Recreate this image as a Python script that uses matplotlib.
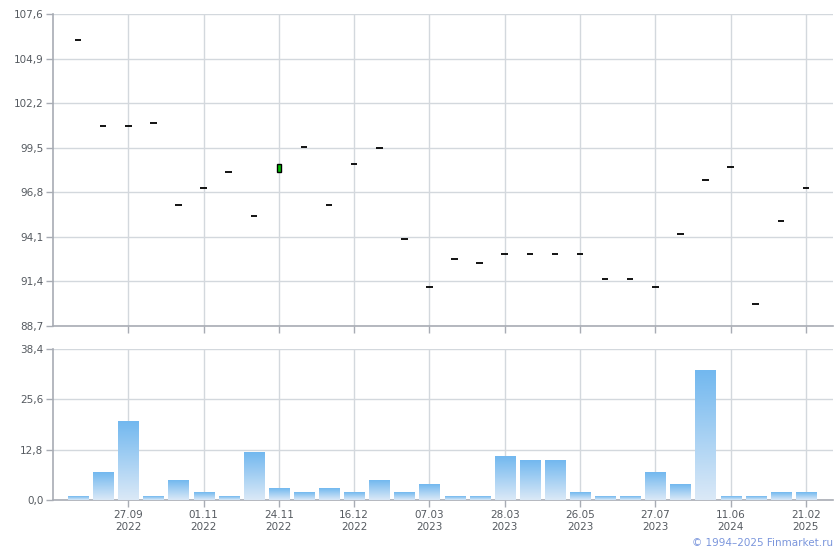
import matplotlib
matplotlib.use("Agg")
import matplotlib.pyplot as plt
import numpy as np
from matplotlib.colors import LinearSegmentedColormap

# ---- data ----
closes = [106.0, 100.8, 100.8, 101.0, 96.0, 97.04, 98.0, 95.34, 98.5, 99.52,
          96.0, 98.5, 99.46, 94.0, 91.04, 92.74, 92.5, 93.04, 93.04, 93.04,
          93.04, 91.53, 91.53, 91.04, 94.25, 97.52, 98.31, 90.01, 95.04, 97.04]
opens = [106.0, 100.8, 100.8, 101.0, 96.0, 97.04, 98.0, 95.34, 98.0, 99.52,
         96.0, 98.5, 99.46, 94.0, 91.04, 92.74, 92.5, 93.04, 93.04, 93.04,
         93.04, 91.53, 91.53, 91.04, 94.25, 97.52, 98.31, 90.01, 95.04, 97.04]
volumes = [1, 7, 20, 1, 5, 2, 1, 12, 3, 2, 3, 2, 5, 2, 4, 1, 1, 11, 10, 10,
           2, 1, 1, 7, 4, 33, 1, 1, 2, 2]
tick_idx = [2, 5, 8, 11, 14, 17, 20, 23, 26, 29]
tick_labels = ["27.09\n2022", "01.11\n2022", "24.11\n2022", "16.12\n2022",
               "07.03\n2023", "28.03\n2023", "26.05\n2023", "27.07\n2023",
               "11.06\n2024", "21.02\n2025"]
price_ticks = [88.7, 91.4, 94.1, 96.8, 99.5, 102.2, 104.9, 107.6]
vol_ticks = [0.0, 12.8, 25.6, 38.4]

W, H = 840, 550
fig = plt.figure(figsize=(W / 100, H / 100), dpi=100)
L, R = 53, 833
ax1 = fig.add_axes([L / W, 1 - 326 / H, (R - L) / W, (326 - 14) / H])
ax2 = fig.add_axes([L / W, 1 - 500 / H, (R - L) / W, (500 - 349) / H])

grid_c = "#d3d8dd"
spine_c = "#a8acb4"
txt_c = "#555a60"
n = len(closes)
x = np.arange(n)
xlim = (-1, n + 0.08)

def fmt(v):
    return f"{v:.1f}".replace(".", ",")

for ax in (ax1, ax2):
    for s in ("top", "right"):
        ax.spines[s].set_visible(False)
    for s in ("left", "bottom"):
        ax.spines[s].set_color(spine_c)
        ax.spines[s].set_linewidth(1.2)
    ax.set_xticks(tick_idx)
    ax.grid(True, color=grid_c, linewidth=1.0)
    ax.set_axisbelow(True)
    ax.tick_params(colors=spine_c, labelcolor=txt_c, length=5, width=1,
                   labelsize=7.5, pad=2)

# price panel
for i in range(n):
    o, c = opens[i], closes[i]
    if abs(c - o) < 1e-9:
        ax1.plot([x[i] - 0.13, x[i] + 0.13], [c, c], color="black", lw=1.3,
                 solid_capstyle="butt", zorder=3)
    else:
        lo, hi = min(o, c), max(o, c)
        col = "#00c000" if c > o else "#e00000"
        ax1.bar(x[i], hi - lo, bottom=lo, width=0.15, color=col,
                edgecolor="black", linewidth=1.0, zorder=3)
ax1.set_xlim(*xlim)
ax1.set_ylim(price_ticks[0], price_ticks[-1])
ax1.set_yticks(price_ticks)
ax1.set_yticklabels([fmt(v) for v in price_ticks])
ax1.set_xticklabels([])

# volume panel
cmap = LinearSegmentedColormap.from_list("g", ["#dbe9f7", "#72b8ef"])
grad = np.linspace(0, 1, 256).reshape(-1, 1)
bw = 0.8
for i in range(n):
    v = volumes[i]
    ax2.imshow(grad, extent=(x[i] - bw / 2, x[i] + bw / 2, 0, v), origin="lower",
               cmap=cmap, aspect="auto", zorder=3, interpolation="bilinear")
ax2.set_xlim(*xlim)
ax2.set_ylim(vol_ticks[0], vol_ticks[-1])
ax2.set_yticks(vol_ticks)
ax2.set_yticklabels([fmt(v) for v in vol_ticks])
ax2.set_xticklabels(tick_labels, linespacing=1.25)

fig.text(833 / W, 1 - 543 / H, "© 1994–2025 Finmarket.ru", color="#7b96dc",
         fontsize=7.5, ha="right", va="center")

fig.savefig("out.png", dpi=100)
